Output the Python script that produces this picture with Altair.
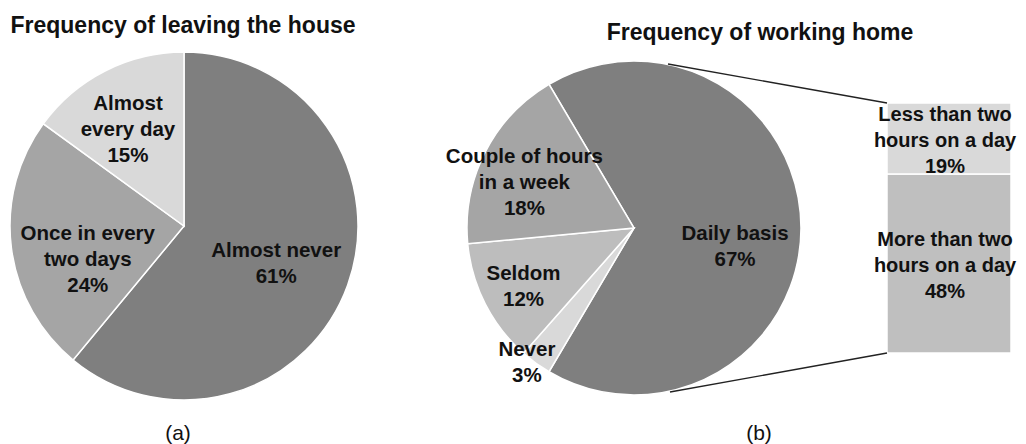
import math
import altair as alt
import pandas as pd

# ---------------- data ----------------
a_title = "Frequency of leaving the house"
a_cats = ["Almost never", "Once in every two days", "Almost every day"]
a_text = ["Almost never", "Once in every\ntwo days", "Almost\nevery day"]
a_vals = [61, 24, 15]

b_title = "Frequency of working home"
b_cats = ["Daily basis", "Never", "Seldom", "Couple of hours in a week"]
b_text = ["Daily basis", "Never", "Seldom", "Couple of hours\nin a week"]
b_vals = [67, 3, 12, 18]

bar_cats = ["More than two hours on a day", "Less than two hours on a day"]
bar_text = ["More than two\nhours on a day", "Less than two\nhours on a day"]
bar_vals = [48, 19]

captions = ["(a)", "(b)"]

# ---------------- styles ----------------
a_colors = ["#7f7f7f", "#a5a5a5", "#d9d9d9"]
b_colors = ["#7f7f7f", "#d9d9d9", "#bdbdbd", "#a5a5a5"]
bar_colors = ["#bfbfbf", "#d9d9d9"]
FONT = "Liberation Sans"
TXT = "#111111"
LH = 26
FS = 20.5


def frame(cats, texts, vals):
    df = pd.DataFrame({"cat": cats, "txt": texts, "value": vals, "idx": list(range(len(cats)))})
    df["label"] = df["txt"] + "\n" + df["value"].astype(str) + "%"
    return df


df_a = frame(a_cats, a_text, a_vals)
df_b = frame(b_cats, b_text, b_vals)
df_bar = frame(bar_cats, bar_text, bar_vals)

TWO_PI = 2 * math.pi


def theta_scale(df, start):
    return alt.Scale(domain=[0, float(df["value"].sum())], range=[start, start + TWO_PI])


def pie(df, cx, cy, R, start, colors):
    return alt.Chart(df).mark_arc(radius=R, stroke="white", strokeWidth=1.5).encode(
        theta=alt.Theta("value:Q", stack=True, scale=theta_scale(df, start)),
        color=alt.Color("cat:N", scale=alt.Scale(domain=list(df["cat"]), range=colors), legend=None),
        order=alt.Order("idx:Q"),
        x=alt.value(cx),
        y=alt.value(cy),
    )


def n_lines(df, cat):
    return df.loc[df["cat"] == cat, "label"].iloc[0].count("\n") + 1


def label(df, cx, cy, start, cat, r, dx, dy):
    shift = -(n_lines(df, cat) - 1) * LH / 2
    return (
        alt.Chart(df)
        .transform_window(cum="sum(value)", sort=[alt.SortField("idx")], frame=[None, 0])
        .transform_calculate(mid="datum.cum - datum.value / 2")
        .transform_filter(alt.datum.cat == cat)
        .mark_text(radius=r, dx=dx, dy=dy + shift, lineBreak="\n", font=FONT, fontSize=FS,
                   fontWeight="bold", lineHeight=LH, color=TXT, align="center", baseline="middle")
        .encode(
            theta=alt.Theta("mid:Q", stack=False, scale=theta_scale(df, start)),
            text="label:N",
            x=alt.value(cx),
            y=alt.value(cy),
        )
    )


# pie (a)
A_CX, A_CY, A_R, A_START = 176, 218, 174, 0.0
# pie (b): "Daily basis" slice centred on 3 o'clock
B_CX, B_CY, B_R = 626, 220, 167
B_START = TWO_PI + math.pi / 2 - math.pi * b_vals[0] / sum(b_vals)

layers = [
    pie(df_a, A_CX, A_CY, A_R, A_START, a_colors),
    label(df_a, A_CX, A_CY, A_START, a_cats[0], 98, 0, 5),
    label(df_a, A_CX, A_CY, A_START, a_cats[1], 97, 0, 22),
    label(df_a, A_CX, A_CY, A_START, a_cats[2], 108, -7, 0),
    pie(df_b, B_CX, B_CY, B_R, B_START, b_colors),
    label(df_b, B_CX, B_CY, B_START, b_cats[0], 101, 0, 19),
    label(df_b, B_CX, B_CY, B_START, b_cats[1], 172, -6, -4),
    label(df_b, B_CX, B_CY, B_START, b_cats[2], 124, 0, 3),
    label(df_b, B_CX, B_CY, B_START, b_cats[3], 123, 0, 11),
]

# bar of pie
ysc = alt.Scale(domain=[0, float(sum(bar_vals))], range=[345, 95])
bar_base = (
    alt.Chart(df_bar)
    .transform_window(cum="sum(value)", sort=[alt.SortField("idx")], frame=[None, 0])
    .transform_calculate(start="datum.cum - datum.value", mid="datum.cum - datum.value / 2")
)
bar = bar_base.mark_rect(stroke="white", strokeWidth=1.5).encode(
    y=alt.Y("cum:Q", scale=ysc, axis=None),
    y2="start:Q",
    x=alt.value(879),
    x2=alt.value(1003),
    color=alt.Color("cat:N", scale=alt.Scale(domain=bar_cats, range=bar_colors), legend=None),
)
bar_lbl = bar_base.mark_text(lineBreak="\n", font=FONT, fontSize=20, fontWeight="bold", lineHeight=LH,
                             color=TXT, align="center", baseline="middle", dy=-LH + 3).encode(
    y=alt.Y("mid:Q", scale=ysc, axis=None), x=alt.value(937), text="label:N")
layers += [bar, bar_lbl]

one = pd.DataFrame({"k": [0]})
conn_top = alt.Chart(one).mark_rule(color="#222222", strokeWidth=1.3).encode(
    x=alt.value(660), y=alt.value(56), x2=alt.value(879), y2=alt.value(95))
conn_bot = alt.Chart(one).mark_rule(color="#222222", strokeWidth=1.3).encode(
    x=alt.value(662), y=alt.value(384), x2=alt.value(879), y2=alt.value(345))
layers += [conn_top, conn_bot]


def text_at(t, x, y, size, weight):
    return alt.Chart(pd.DataFrame({"t": [t]})).mark_text(
        font=FONT, fontSize=size, fontWeight=weight, color=TXT, align="center", baseline="alphabetic"
    ).encode(text="t:N", x=alt.value(x), y=alt.value(y))


layers += [
    text_at(a_title, 175, 25, 23, "bold"),
    text_at(b_title, 752, 32, 23, "bold"),
    text_at(captions[0], 170, 432, 21, "normal"),
    text_at(captions[1], 751, 432, 21, "normal"),
]

chart = (
    alt.layer(*layers)
    .resolve_scale(theta="independent", color="independent")
    .properties(width=1010, height=436, padding=0, autosize=alt.AutoSizeParams(type="none"),
                background="white")
    .configure_view(stroke=None)
)

chart.save("out.html", embed_options={"renderer": "svg", "actions": False})
